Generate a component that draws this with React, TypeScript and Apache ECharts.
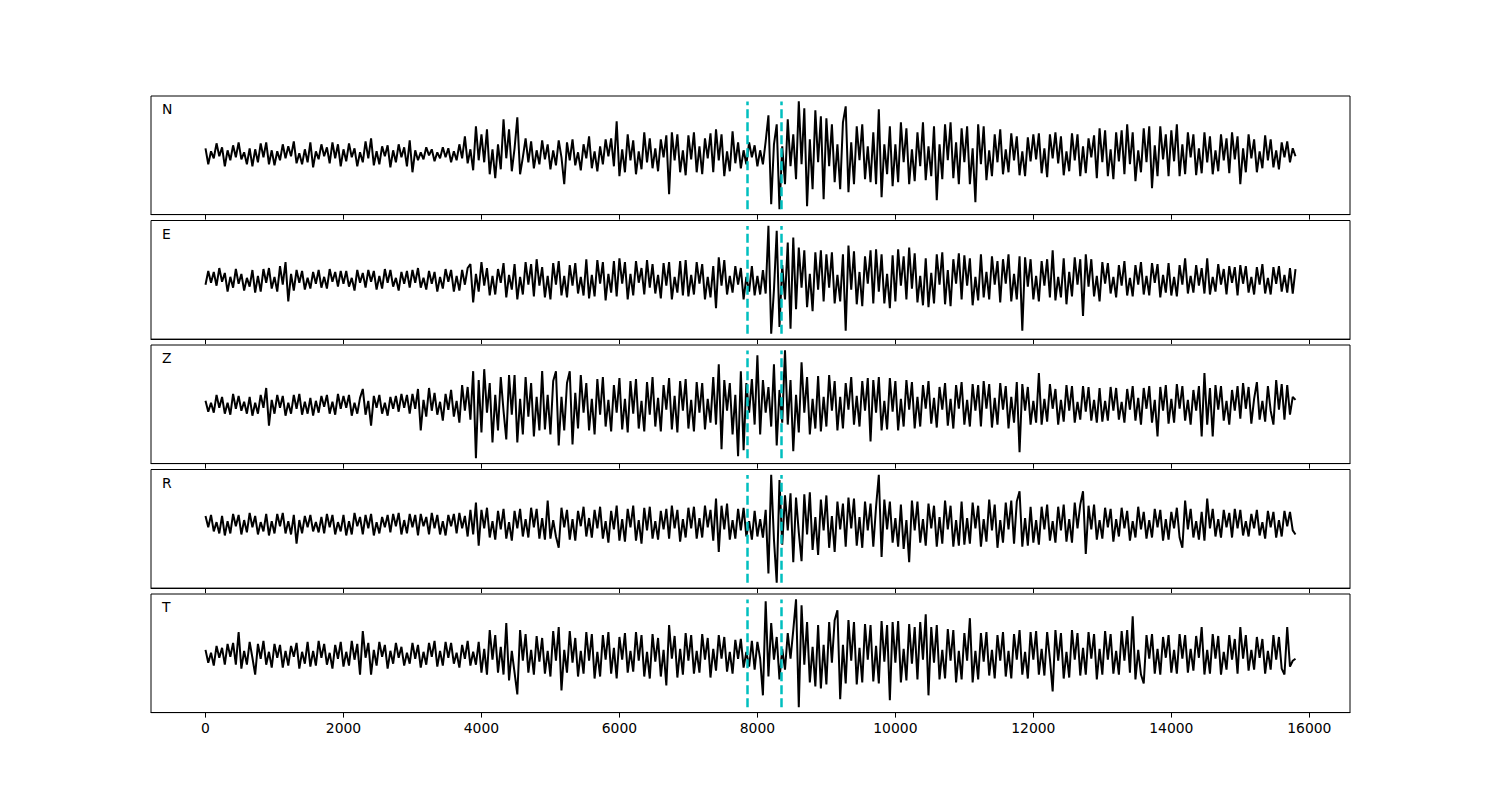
import React, { useEffect, useRef } from "react";
import * as echarts from "echarts";

// Channel names, shown top-left of each panel
const channels = ["N", "E", "Z", "R", "T"];
// Each trace is stored as rows of samples; each row starts at rowIndex * rowSpan,
// samples inside a row are sampleStep apart.
const rowSpan = 1000;
const sampleStep = 40;
// Phase picks (cyan dashed lines)
const picks = [7860, 8350];
// X axis tick values / limits
const xTicks = [0, 2000, 4000, 6000, 8000, 10000, 12000, 14000, 16000];
const xMin = -790;
const xMax = 16590;

const traceN = [
  [6, -10, 3, -4, 11, -2, 7, -12, 4, -6, 9, -3, 12, -5, 2, -10, 6, -12, 5, -8, 11, -3, 12, -10, 4],
  [-11, 3, -6, 10, -4, 8, -2, 13, -9, 1, -10, 5, -8, 12, -13, 3, -5, 10, -2, 7, -9, 12, -4, 10, -12],
  [5, -7, 11, -3, 6, -12, 2, -8, 13, -4, 16, -11, 3, -10, 8, -2, 9, -13, 4, -8, 10, -3, 7, -12, 14],
  [-18, 4, -6, 2, -5, 7, -1, 5, -7, 2, -4, 7, -3, 6, -8, 3, -6, 10, -4, 18, -9, 5, -16, 28, -6],
  [20, -8, 25, -20, 5, -24, 10, -15, 35, -4, 25, -17, 6, 37, -20, -3, 16, -8, 13, -14, 4, -10, 14, -5, 10],
  [-15, 4, -11, 14, -3, -30, 12, -6, 15, -11, 2, -16, 10, -4, 18, -14, 3, -17, 8, -10, 15, -2, 16, -12, 33],
  [-22, 5, -18, 20, -6, 14, -20, 3, -15, 22, -8, 16, -14, 6, -17, 15, -3, 19, -40, 22, -6, 20, -18, 4, -21],
  [19, -5, 22, -18, 8, -20, 16, -4, 21, -18, 25, -6, 20, -22, 3, -17, 23, -9, 12, -14, 4, -10, 12, -3, 9],
  [-12, 4, -10, 13, 39, -50, 10, 30, -55, 8, -30, 35, -12, 20, -25, 53, -10, 46, -52, 15, -35, 44, -8, 38, -45],
  [36, -12, 30, -28, 10, -35, 32, 48, -38, 12, -30, 28, -6, 30, -25, 8, -28, 22, -30, 45, -43, 10, -20, 28, -32],
  [10, -28, 32, -8, 26, -30, 5, -27, 22, -12, 32, -26, 8, -22, 28, -46, 10, -25, 30, -6, 32, -24, 12, -30, 26],
  [-8, 28, -30, 6, -48, 30, -10, 28, -26, 4, -22, 20, -8, 25, -20, 5, -18, 21, -6, 18, -21, 3, -22, 17, -7],
  [20, -5, 21, -19, 6, -23, 20, -4, 22, -9, 18, -21, 3, -17, 21, -6, 20, -22, 8, -19, 16, -3, 19, -24, 26],
  [-8, 24, -22, 5, -25, 22, -7, 24, -20, 30, -10, 22, -27, 4, -18, 26, -8, 28, -34, 9, -22, 28, -5, 20, -22],
  [24, -7, 30, -22, 10, -20, 22, -3, 20, -21, 6, -19, 22, -8, 18, -20, 4, -17, 20, -6, 16, -19, 22, -5, 18],
  [-30, 6, -18, 20, -4, 15, -18, 3, -14, 19, -6, 15, -13, 4, -15, 12, -3, 13, -8, 6, -2],
];

const traceE = [
  [-5, 9, -3, 8, -6, 12, -2, 7, -12, 3, -8, 11, -4, 6, -11, 2, -7, 10, -13, 4, -12, 11, -3, 12, -9],
  [3, -12, 14, -5, 18, -22, 6, -11, 10, -3, 9, -10, 2, -9, 8, -4, 10, -8, 3, -9, 11, -2, 8, -7, 9],
  [-4, 9, -7, 2, -11, 10, -3, 7, -8, 10, -2, 9, -10, 4, -9, 11, -3, 10, -7, 2, -11, 8, -4, 9, -8],
  [10, -3, 12, -8, 2, -10, 9, -4, 8, -12, 3, -9, 11, -2, 10, -12, 4, -11, 10, -5, 12, 16, -23, 6, -12],
  [18, -6, 12, -16, 4, -15, 11, -3, 17, -18, 5, -10, 16, -20, 3, -15, 18, -5, 16, -17, 21, -6, 13, -18, 4],
  [-20, 17, -5, 19, -16, 4, -18, 15, -6, 17, -14, 3, -16, 21, -19, 5, -17, 20, -4, 18, -21, 6, -13, 19, -17],
  [22, -4, 18, -20, 6, -16, 19, -3, 12, -15, 20, -8, 16, -14, 5, -19, 17, -6, 18, -20, 3, -13, 19, -16, 20],
  [-17, 5, -15, 18, -4, 16, -20, 3, -18, 14, -29, 23, -6, 20, -15, 4, -13, 14, -5, 12, -20, 3, -12, 14, -16],
  [4, -15, 10, -14, 55, -55, -10, 50, -48, 15, -20, 38, -50, 43, -30, 33, -8, 30, -28, 6, -32, 28, -10, 30, -22],
  [26, -8, 28, -24, 5, -22, 26, -52, 35, -10, 29, -25, 8, -27, 24, -4, 30, -24, 31, -12, 26, -24, 6, -29, 25],
  [-22, 31, -6, 24, -20, 33, -9, 27, -23, 4, -26, 22, -28, 7, -24, 26, -5, 28, -25, 10, -27, 21, -4, 27, -20],
  [25, -6, 22, -26, 3, -21, 26, -18, 8, -20, 24, -5, 19, -23, 21, -4, 26, -22, 6, -20, 24, -52, 23, -7, 21],
  [-20, 4, -22, 19, -6, 21, -18, 30, -21, 3, -18, 22, -25, 8, -17, 23, -5, 21, -37, 26, -7, 21, -17, 4, -22],
  [18, -4, 17, -14, 3, -18, 15, -6, 19, -16, 2, -17, 15, -5, 18, -15, 4, -16, 17, -3, 16, -18, 5, -13, 17],
  [-16, 3, -17, 15, -5, 22, -14, 4, -13, 15, -6, 12, -14, 22, -15, 3, -12, 16, -5, 11, -15, 14, -3, 13, -16],
  [15, -4, 14, -13, 3, -15, 13, -5, 16, -14, 2, -15, 13, -4, 14, -12, 5, -13, 12, -14, 11],
];

const traceZ = [
  [4, -7, 2, -8, 10, -3, 8, -9, 2, -10, 11, -4, 9, -6, 3, -9, 8, -11, 2, -9, 10, -3, 17, -21, 5],
  [-9, 10, -3, 9, -11, 2, -9, 10, -4, 11, -10, 3, -9, 7, -11, 4, -8, 9, -2, 10, -9, 3, -10, 11, -4],
  [9, -3, 10, -11, 2, -9, 7, 16, -10, 4, -21, 9, -3, 10, -9, 2, -11, 8, -4, 9, -7, 11, -3, 10, -9],
  [11, -4, 16, -26, 5, -12, 17, -6, 12, -10, 3, -16, 11, -5, 15, -12, 4, -18, 20, -6, 18, -15, 34, -54, 25],
  [-28, 36, -8, 22, -38, 10, -26, 28, -6, -35, 30, -10, 30, -38, 6, -30, 28, -12, 22, -32, 8, -26, 34, -25, 10],
  [-30, 24, 34, -41, 8, -26, 22, 34, -40, 12, -24, 30, -8, 22, -26, 6, -30, 26, -10, 28, -22, 5, -27, 20, -8],
  [27, -25, 6, -28, 24, -9, 26, -24, 4, -27, 23, -10, 28, -22, 7, -27, 20, -5, 27, -25, 9, -28, 24, -6, 26],
  [-24, 5, -27, 23, -8, 22, -25, 6, -18, 28, -20, 41, -45, 25, -6, 22, -30, 10, -52, 34, -46, 22, -8, 26, -20],
  [50, -30, 25, -8, 18, -22, 41, -41, 15, -18, 55, -20, 25, -47, 10, -28, 43, -8, 28, -30, 6, -24, 29, -27, 8],
  [-22, 30, -6, 24, -26, 8, -24, 22, -5, 28, -20, 9, -22, 24, -6, 27, -37, 25, -8, 28, -26, 4, -25, 27, -7],
  [24, -26, 6, -22, 25, -5, 23, -24, 8, -22, 20, -4, 24, -19, 7, -23, 18, -5, 22, -21, 6, -24, 20, -4, 23],
  [-20, 5, -22, 21, -6, 20, -22, 24, -4, 21, -23, 7, -20, 22, -5, 19, -24, 8, -18, 23, -48, 21, -6, 18, -20],
  [4, -18, 32, -20, 6, -17, 21, -4, 16, -20, 5, -17, 20, -6, 19, -18, 3, -15, 19, -7, 18, -16, 5, -18, 17],
  [-17, 4, -16, 18, -6, 17, -15, 3, -18, 16, -5, 19, -16, 7, -20, 17, -4, 19, -18, 5, -32, 18, -6, 20, -19],
  [6, -18, 21, -4, 19, -16, 5, -20, 15, -6, 19, -32, 32, -20, 17, -32, 20, -5, 19, -16, 4, -20, 15, -6, 19],
  [-14, 22, -4, 18, -19, 6, 23, -15, 4, -17, 19, -6, -20, 25, -5, 21, -15, 20, -10, 8, 5],
];

const traceR = [
  [8, -3, 9, -7, 2, -9, 8, -11, 3, -9, 10, -2, 9, -10, 4, -8, 11, -3, 8, -10, 2, -7, 10, -11, 3],
  [-9, 10, -2, 11, -9, 3, -10, 9, -19, 4, -9, 8, -3, 9, -7, 2, -8, 7, -9, 10, -3, 9, -10, 2, -7],
  [9, -11, 3, -10, 11, -2, 7, -10, 9, -4, 10, -11, 2, -9, 7, -3, 9, -8, 10, -2, 11, -10, 4, -9, 10],
  [-3, 9, -11, 10, -2, 7, -10, 11, -4, 9, -10, 3, -11, 9, -2, 10, -9, 11, -4, 8, -12, 14, -10, 21, -21],
  [14, -4, 16, -13, 3, -15, 13, -5, 15, -14, 2, -16, 13, -4, 15, -12, 5, -13, 16, -3, 15, -14, 6, -15, 23],
  [-14, 4, -12, -23, 16, -3, 14, -15, 5, -16, 13, -2, 17, -12, 6, -13, 14, -4, 17, -14, 3, -18, 13, -5, 18],
  [-16, 5, -17, 15, -3, 18, -16, 4, -19, 16, -6, 17, -14, 3, -15, 13, -5, 15, -14, 18, -4, 14, -17, 5, -13],
  [16, -4, 17, -14, 6, -13, 18, -3, 14, -16, 25, -27, 18, -5, 20, -15, 4, -14, 15, -6, 16, -12, 3, -15, 13],
  [-12, 5, -13, 14, -48, 48, -15, -57, 43, -20, 28, -6, 30, -37, 26, -8, -36, 29, -10, 31, -25, 7, -30, 24, -6],
  [28, -23, 8, -27, 22, -5, 20, -22, 26, -4, 25, -21, 7, -23, 22, -6, 20, -22, 17, 48, -32, 24, -5, 22, -18],
  [6, -22, 19, -24, 4, -37, 23, -6, 22, -18, 5, -21, 20, -4, 18, -22, 7, -19, 23, -5, 18, -22, 4, -21, 22],
  [-20, 6, -19, 21, -4, 18, -22, 5, -17, 24, -6, 19, -23, 4, -18, 21, -5, 23, -19, 22, 32, -22, 6, -21, 17],
  [-18, 4, -20, 17, -5, 19, -16, 3, -18, 17, -6, 19, -17, 5, -18, 21, -4, 19, 32, -29, 18, -5, 19, -15, 4],
  [-14, 16, -3, 15, -17, 5, -12, 16, -4, 13, -16, 3, -13, 17, -5, 12, -14, 4, -13, 15, -3, 14, -16, 5, -15],
  [12, -4, 16, -13, -23, 23, -5, 15, -13, 3, -15, 12, -16, 25, -4, 15, -12, 5, -13, 14, -3, 11, -13, 15, -4],
  [14, -11, 3, -12, 10, -4, 14, -11, 2, -14, 13, -3, 12, -13, 4, -12, 13, -2, 12, -6, -10],
];

const traceT = [
  [5, -8, 2, -11, 9, -3, 7, -10, 11, -2, 12, -10, 23, -14, 4, -10, 13, -3, -20, 11, -4, 14, -10, 3, -13],
  [11, -3, 10, -13, 4, -11, 9, -2, 12, -14, 3, -9, 13, -12, 4, -11, 14, -3, 11, -10, 2, -14, 10, -4, 13],
  [-12, 3, -11, 14, -5, 11, -20, 24, -3, 12, -20, 5, -11, 13, -2, 10, -14, 4, -9, 12, -3, 8, -11, 2, -9],
  [12, -4, 10, -13, 3, -10, 12, -2, 14, -12, 4, -11, 13, -3, 12, -9, 2, -13, 10, -4, 14, -11, 3, -10, 13],
  [-18, 6, -20, 25, -5, 20, -18, 8, -20, 32, -26, 4, -18, -40, 25, -6, 21, -18, 5, -20, 19, -7, 17, -19, 4],
  [-22, 24, -6, 28, -36, 5, -18, 24, -8, 17, -22, 4, -19, 23, -6, 21, -24, 3, -22, 20, -5, 23, -19, 7, -24],
  [18, -5, 22, -18, 4, -17, 23, -6, 20, -22, 3, -24, 21, -7, 17, -22, 5, -31, 30, -4, 19, -23, 6, -20, 22],
  [-6, 20, -19, 4, -18, 21, -5, 17, -23, 6, -16, 20, -4, 18, -17, 3, -19, 15, -4, 16, -13, 3, -12, 14, -15],
  [13, -4, -41, 54, -22, 32, -5, 18, -25, 6, -15, 22, -4, 25, 56, -53, 50, -10, 33, -28, 8, -32, 30, -34, 10],
  [-30, 33, -8, 35, 45, -45, 10, -29, 35, -6, 33, -30, 7, -28, 31, -5, 30, -27, 9, -29, 34, -7, 30, -46, 33],
  [-8, 34, -28, 6, -26, 31, -9, 28, -25, 33, -5, 41, -41, 28, -8, 30, -25, 5, -24, 26, -6, 25, -28, 4, -25],
  [22, -6, 37, -28, 4, -25, 22, -7, 23, -21, 5, -24, 20, -6, 23, -22, 4, -24, 21, -5, 25, -20, 3, -24, 23],
  [-5, 24, -20, 6, -21, 23, -4, -37, 25, -6, 22, -24, 3, -23, 25, -5, 22, -21, 7, -20, 23, -4, 21, -25, 6],
  [-20, 24, -5, 21, -19, 4, -20, 24, -6, 25, -18, 39, -25, 5, -20, -29, 20, -4, 21, -19, 6, -20, 18, -3, 20],
  [-18, 5, -19, 21, -4, 20, -18, 6, -16, 19, -3, 28, -20, 5, -19, 21, -4, 19, -20, 3, -15, 20, -5, 16, -19],
  [28, -4, 20, -16, 5, -15, 18, -3, 16, -19, 4, -15, 20, -5, 18, -14, -20, 28, -12, -6, -4],
];

const traces = [traceN, traceE, traceZ, traceR, traceT];

export default function App() {
  const ref = useRef<HTMLDivElement>(null);

  useEffect(() => {
    document.body.style.margin = "0";
    const chart = echarts.init(ref.current!, null, { renderer: "svg" });

    const top0 = 96;
    const pitch = 124.5;
    const h = 118.6;
    const font = "DejaVu Sans";

    const grids: any[] = [];
    const xAxes: any[] = [];
    const yAxes: any[] = [];
    const series: any[] = [];
    const graphics: any[] = [];

    traces.forEach((rows, i) => {
      const pts: number[][] = [];
      rows.forEach((row, r) =>
        row.forEach((v, j) => pts.push([r * rowSpan + j * sampleStep, v]))
      );
      const vals = pts.map((p) => p[1]);
      const top = top0 + i * pitch;
      grids.push({
        left: 151,
        width: 1199,
        top,
        height: h,
        show: true,
        borderColor: "#000",
        borderWidth: 1,
        backgroundColor: "transparent",
      });
      xAxes.push({
        gridIndex: i,
        type: "value",
        min: xMin,
        max: xMax,
        axisLine: { show: true, onZero: false, lineStyle: { color: "#000", width: 1 } },
        axisTick: {
          show: true,
          length: 5,
          inside: false,
          lineStyle: { color: "#000", width: 1 },
          customValues: xTicks,
        },
        axisLabel: {
          show: i === traces.length - 1,
          customValues: xTicks,
          formatter: (v: number) => String(v),
          color: "#000",
          fontSize: 13.9,
          fontFamily: font,
          margin: 8,
        },
        splitLine: { show: false },
      });
      const lo = Math.min(...vals);
      const hi = Math.max(...vals);
      const r = hi - lo;
      yAxes.push({
        gridIndex: i,
        type: "value",
        show: false,
        min: lo - 0.05 * r,
        max: hi + 0.05 * r,
        splitLine: { show: false },
      });
      series.push({
        type: "line",
        xAxisIndex: i,
        yAxisIndex: i,
        data: pts,
        showSymbol: false,
        symbol: "none",
        smooth: false,
        lineStyle: { color: "#000", width: 2 },
        silent: true,
        markLine: {
          silent: true,
          symbol: ["none", "none"],
          label: { show: false },
          lineStyle: { color: "#00bfbf", width: 2.5, type: [9, 4] },
          data: picks.map((p) => [{ coord: [p, lo] }, { coord: [p, hi] }]),
        },
      });
      graphics.push({
        type: "text",
        left: 162,
        top: top + 6,
        style: { text: channels[i], fontSize: 13.9, fontFamily: font, fill: "#000" },
      });
    });

    chart.setOption({
      animation: false,
      backgroundColor: "#fff",
      grid: grids,
      xAxis: xAxes,
      yAxis: yAxes,
      series,
      graphic: graphics,
    });

    return () => chart.dispose();
  }, []);

  return <div ref={ref} style={{ width: 1500, height: 800 }} />;
}
